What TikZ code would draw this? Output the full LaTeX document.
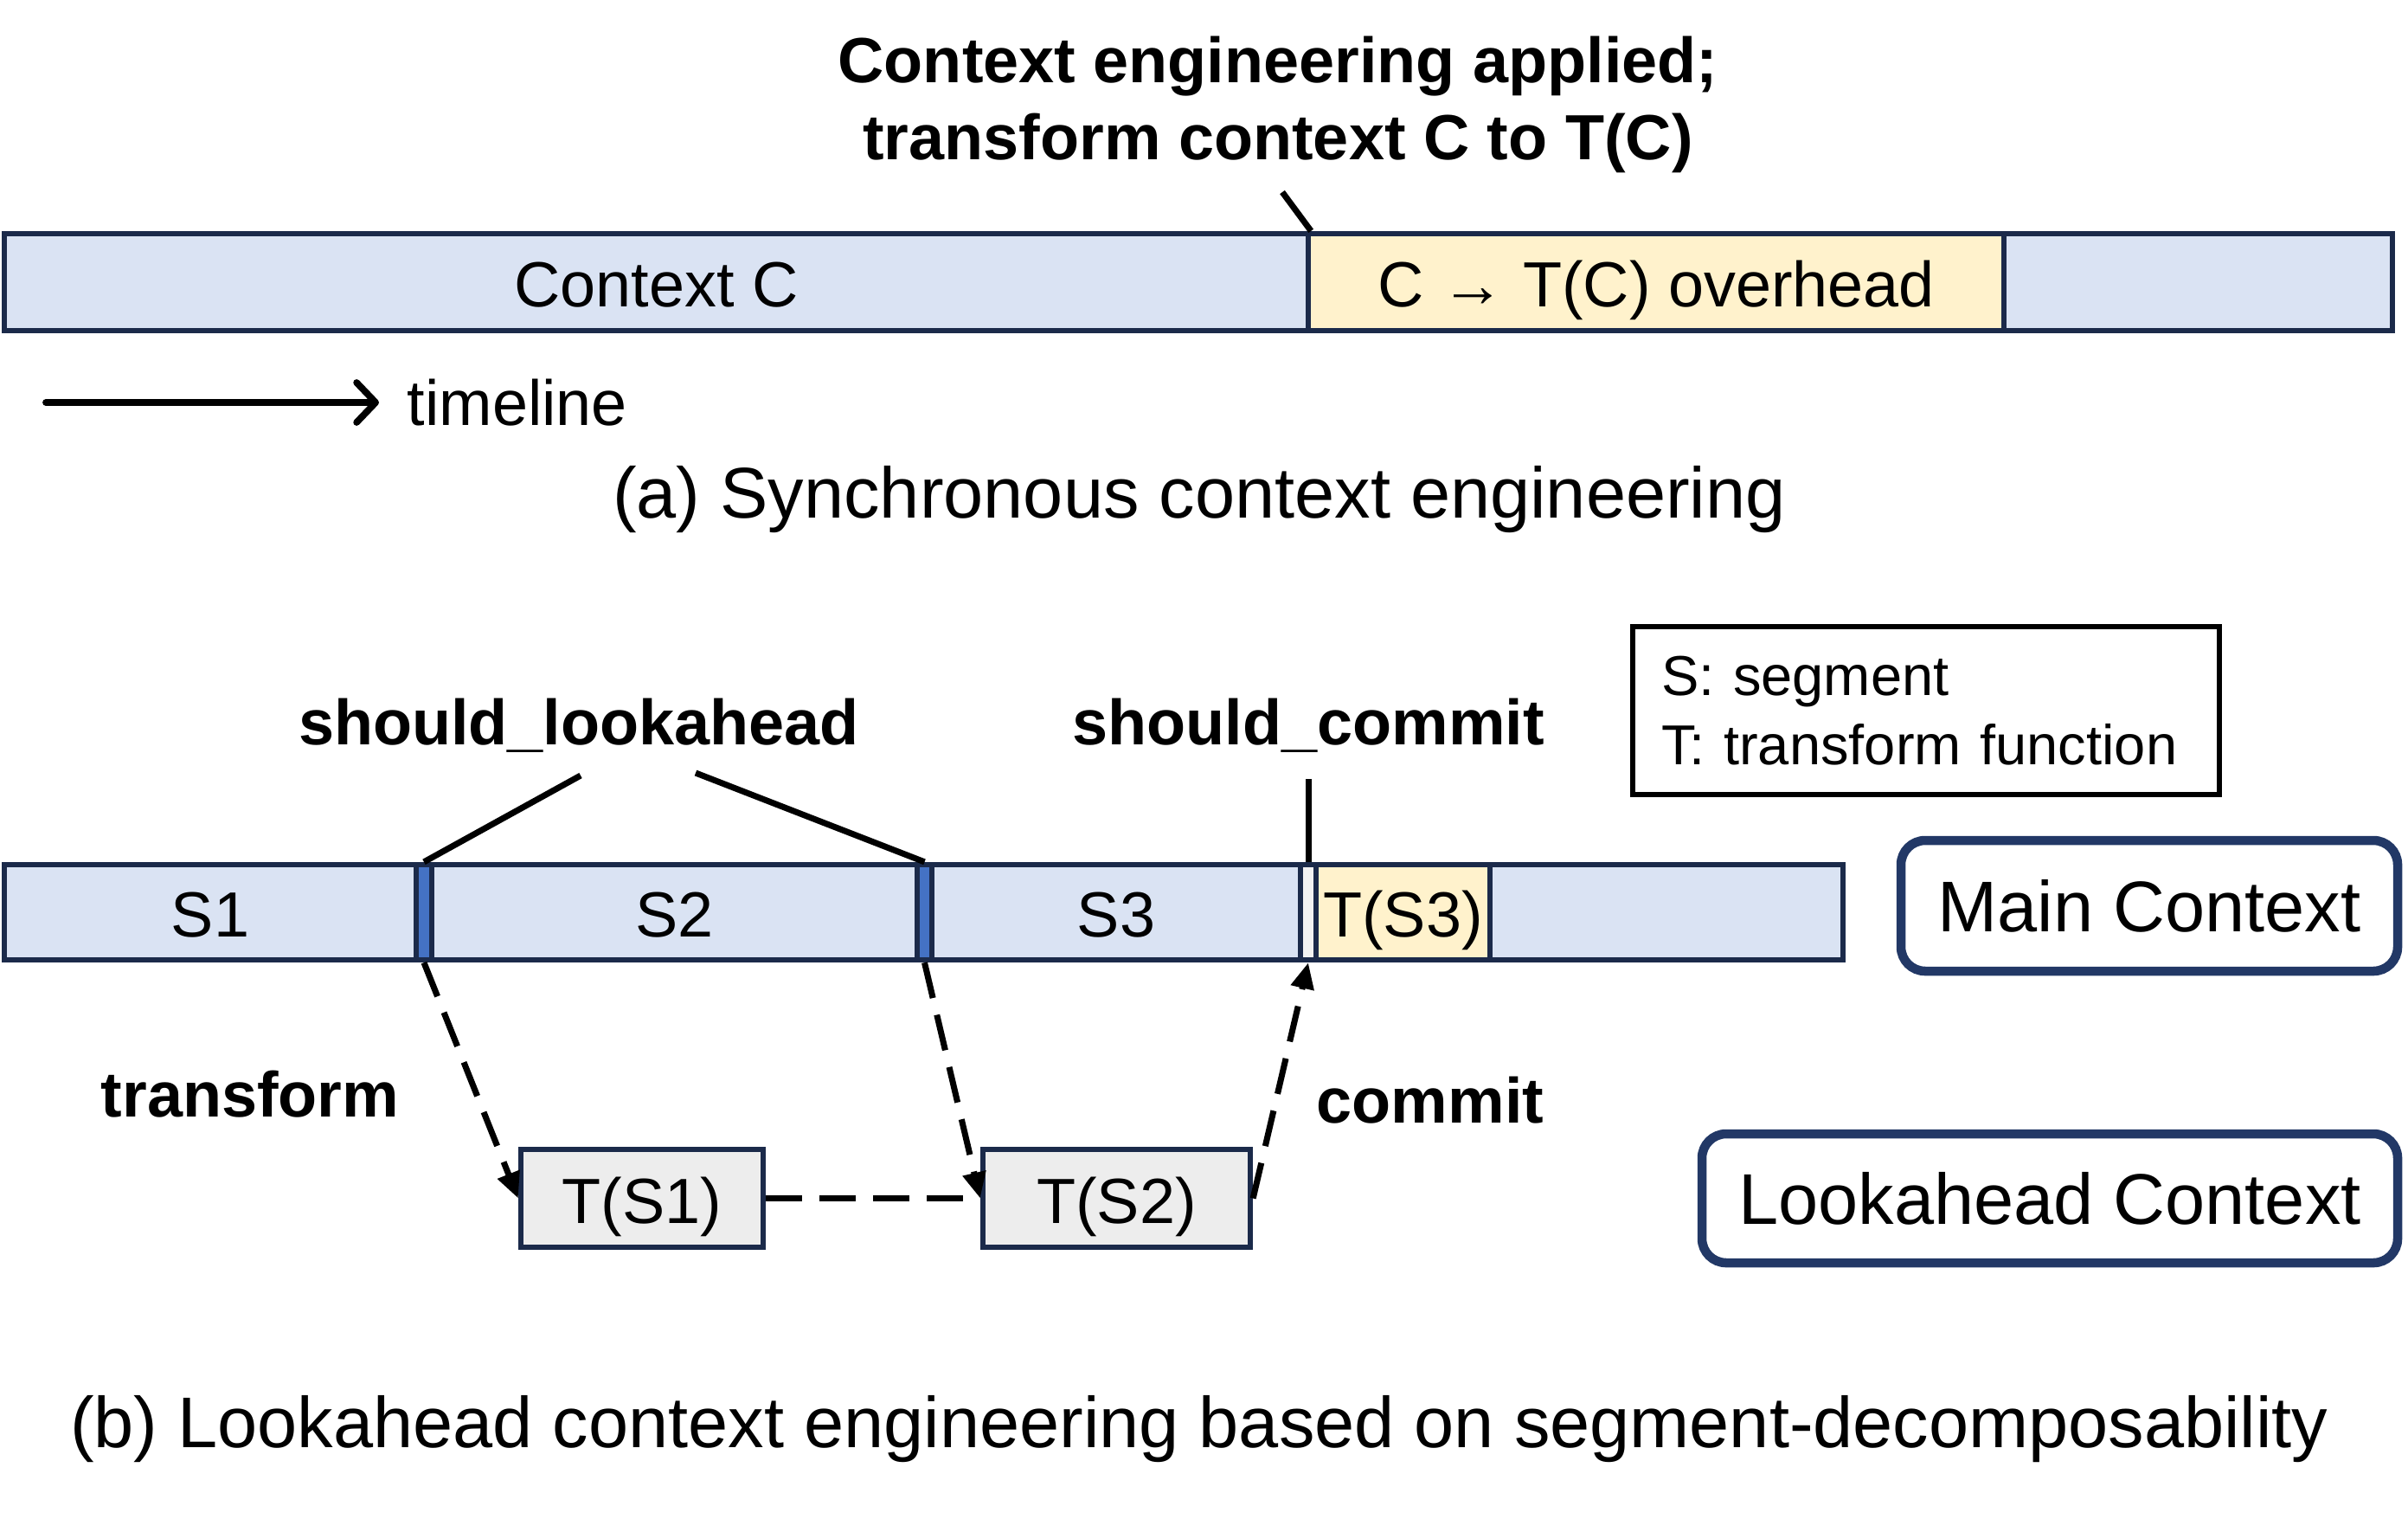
\documentclass[tikz,border=0pt]{standalone}
\usepackage{fontspec}
\setmainfont{Liberation Sans}
\usepackage{tikz}
\usetikzlibrary{positioning}
\usetikzlibrary{calc,arrows.meta}

\definecolor{BarNavy}{HTML}{1B2A4A}
\definecolor{BoxNavy}{HTML}{223866}
\definecolor{SegBlue}{HTML}{DAE3F3}
\definecolor{MarkBlue}{HTML}{4472C4}
\definecolor{CostYellow}{HTML}{FFF2CC}
\definecolor{LookGrey}{HTML}{EDEDED}
\definecolor{GapGrey}{HTML}{F2F2F2}

\tikzset{
	txt/.style={font=\fontsize{21}{25}\selectfont, inner sep=0pt},
	captxt/.style={font=\fontsize{23.6}{28}\selectfont, inner sep=0pt},
	lbl/.style={font=\fontsize{21}{25.2}\selectfont\bfseries, inner sep=0pt},
	seg/.style={draw=BarNavy, line width=1.8pt, fill=SegBlue, inner sep=0pt, text height=0.72cm, text depth=0.15cm, txt},
	topseg/.style={seg, minimum height=1.12cm},
	botseg/.style={seg, minimum height=1.10cm},
	ctxbox/.style={draw=BoxNavy, line width=3pt, rounded corners=0.28cm, inner sep=0pt, captxt},
	leader/.style={line width=2pt},
	flow/.style={line width=2pt, dash pattern=on 0.42cm off 0.2cm, -{Triangle[length=0.3cm,width=0.26cm]}},
}

\begin{document}
\begin{tikzpicture}

	% ------------------------------------------------
	% Size of the whole picture
	\useasboundingbox (0,0) rectangle (27.83,-17.54);

	% ------------------------------------------------
	% (a) synchronous context engineering
	\node[topseg, minimum width=15.07cm] (CtxC) at (7.585,-3.26) {Context C};
	\node[topseg, minimum width=8.04cm, fill=CostYellow] (Overhead) at (19.14,-3.26) {C → T(C) overhead};
	\node[topseg, minimum width=4.49cm] (TopRest) at (25.405,-3.26) {};

	\node[lbl, align=center] (ApplyLbl) at (14.77,-1.21) {Context engineering applied;\\transform context C to T(C)};
	\coordinate (ApplyFoot) at (14.82,-2.22);
	\draw[leader] (ApplyFoot) -- (CtxC.north east);

	\coordinate (TimeBeg) at (0.53,-4.65);
	\node[txt, anchor=west] (TimeLbl) at (4.70,-4.65) {timeline};
	\draw[line width=2.2pt, line cap=round, -{Straight Barb[length=0.22cm,width=0.46cm,round]}, shorten >=0.32cm] (TimeBeg) -- (TimeLbl.west);

	\node[captxt] (CapA) at (13.86,-5.77) {(a) Synchronous context engineering};

	% ------------------------------------------------
	% (b) main context, split in segments
	\node[botseg, minimum width=4.76cm] (S1) at (2.43,-10.54) {S1};
	\node[botseg, minimum width=0.18cm, fill=MarkBlue] (Mark1) at (4.90,-10.54) {};
	\node[botseg, minimum width=5.61cm] (S2) at (7.795,-10.54) {S2};
	\node[botseg, minimum width=0.17cm, fill=MarkBlue] (Mark2) at (10.685,-10.54) {};
	\node[botseg, minimum width=4.26cm] (S3) at (12.90,-10.54) {S3};
	\node[botseg, minimum width=0.18cm, fill=GapGrey] (Gap) at (15.12,-10.54) {};
	\node[botseg, minimum width=2.01cm, fill=CostYellow] (TS3) at (16.215,-10.54) {T(S3)};
	\node[botseg, minimum width=4.08cm] (MainRest) at (19.26,-10.54) {};

	% ----------------
	% Lookahead context
	\node[botseg, minimum width=2.80cm, minimum height=1.13cm, fill=LookGrey] (TS1) at (7.42,-13.845) {T(S1)};
	\node[botseg, minimum width=3.09cm, minimum height=1.13cm, fill=LookGrey] (TS2) at (12.905,-13.845) {T(S2)};

	% ----------------
	% Labels and leaders
	\node[lbl] (LookLbl) at (6.69,-8.38) {should\_lookahead};
	\node[lbl] (CommitLbl) at (15.12,-8.38) {should\_commit};
	\node[lbl] (TransLbl) at (2.89,-12.64) {transform};
	\node[lbl] (CommitArrLbl) at (16.53,-12.71) {commit};

	\coordinate (LookFootA) at (6.71,-8.96);
	\coordinate (LookFootB) at (8.04,-8.93);
	\coordinate (CommitFoot) at (15.12,-9.00);

	\draw[leader] (LookFootA) -- (Mark1.north);
	\draw[leader] (LookFootB) -- (Mark2.north);
	\draw[leader] (CommitFoot) -- (Gap.north);

	% ----------------
	% Dashed flow
	\draw[flow] (Mark1.south) -- (TS1.west);
	\draw[flow] (Mark2.south) -- (TS2.west);
	\draw[flow, -] (TS1.east) -- (TS2.west);
	\draw[flow] (TS2.east) -- (Gap.south);

	% ----------------
	% Legend and context names
	\node[txt, draw=black, line width=1.7pt, minimum width=6.78cm, minimum height=1.94cm, text width=6.12cm, align=left, font=\fontsize{18.5}{22.7}\selectfont] (Legend) at (22.26,-8.21) {S: segment\\T: transform function};

	\node[ctxbox, minimum width=5.74cm, minimum height=1.51cm] (MainBox) at (24.84,-10.465) {Main Context};
	\node[ctxbox, minimum width=8.04cm, minimum height=1.49cm] (LookBox) at (23.69,-13.845) {Lookahead Context};

	\node[captxt] (CapB) at (13.86,-16.51) {(b) Lookahead context engineering based on segment-decomposability};

\end{tikzpicture}
\end{document}
